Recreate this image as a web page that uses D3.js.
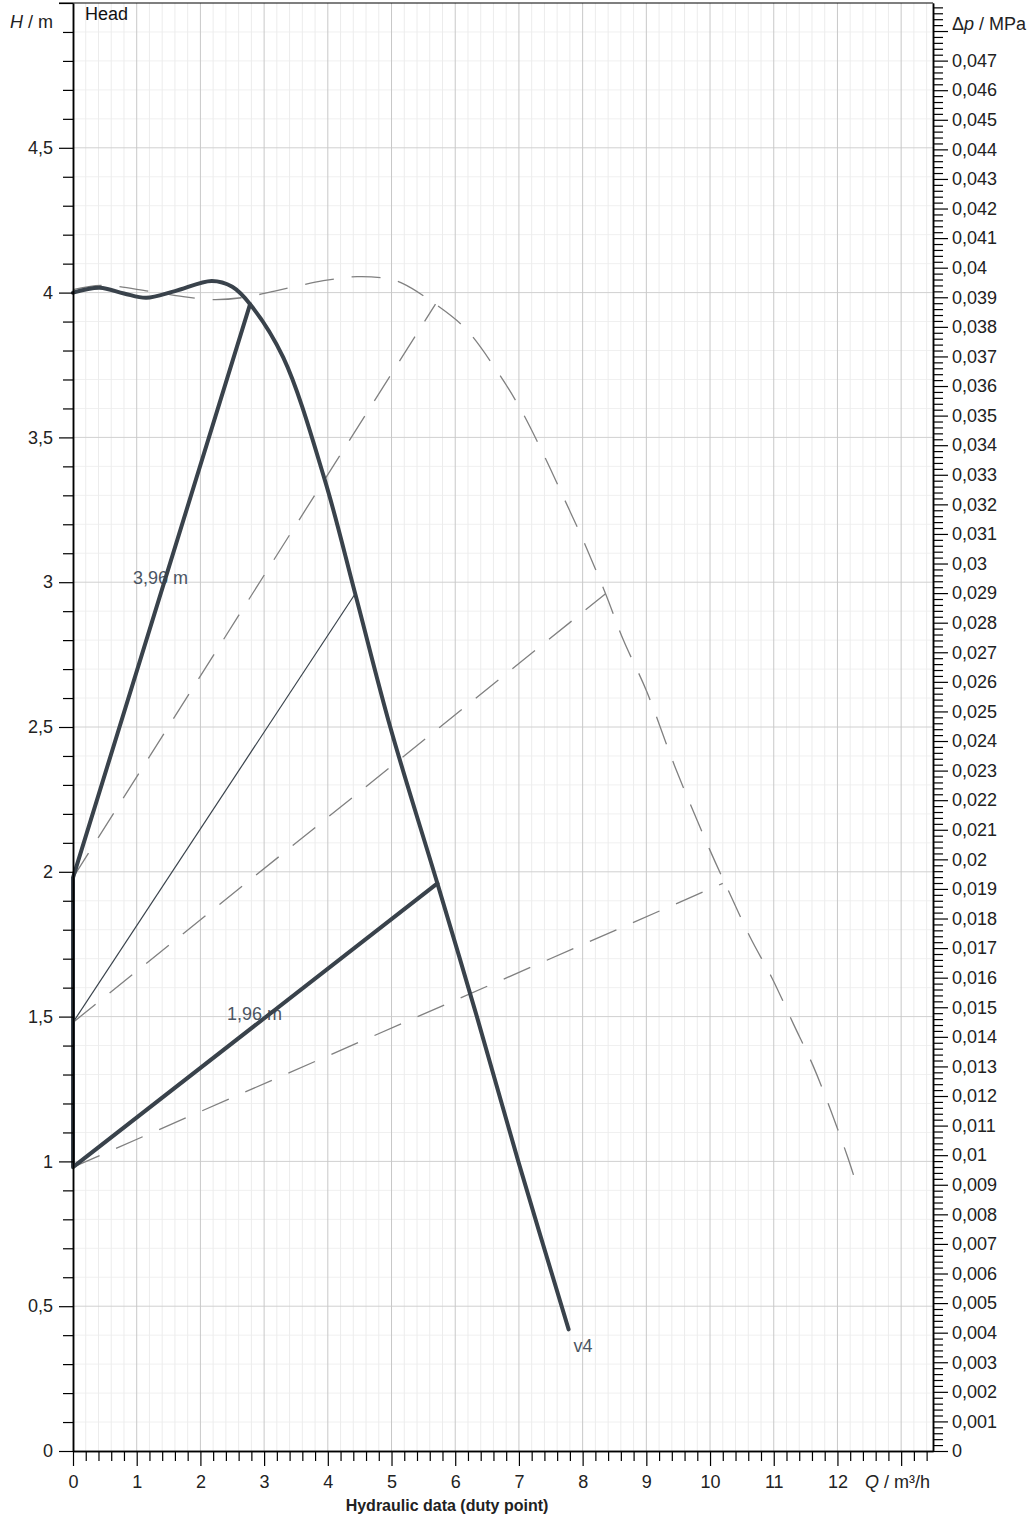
<!DOCTYPE html>
<html>
<head>
<meta charset="utf-8">
<script src="https://cdn.jsdelivr.net/npm/d3@7"></script>
<style>
	body { margin: 0; background: #fff; }
	svg { display: block; font-family: "Liberation Sans", Arial, sans-serif; }
</style>
</head>
<body>
<script>
// pump curve (speed v4), Q in m³/h, H in m
const pumpQ = [0, 0.42, 0.8, 1.15, 1.6, 2.18, 2.5, 2.78, 3.3, 3.95, 4.43, 4.98, 5.72, 6.34, 6.99, 7.78];
const pumpH = [4.0, 4.017, 3.997, 3.982, 4.005, 4.04, 4.02, 3.96, 3.776, 3.355, 2.96, 2.5, 1.96, 1.5, 1.0, 0.42];

// max curve (dashed)
const maxQ = [0, 0.44, 1.19, 1.73, 2.21, 2.67, 3.2, 3.93, 4.46, 4.93, 5.18, 5.69, 6.16, 6.63, 7.02, 7.38, 7.7, 8.01, 8.36, 8.64, 9.0, 9.46, 10.0, 10.32, 10.63, 10.98, 11.31, 11.62, 11.91, 12.16, 12.3];
const maxH = [4.01, 4.025, 4.005, 3.986, 3.976, 3.983, 4.007, 4.041, 4.055, 4.048, 4.031, 3.96, 3.876, 3.738, 3.6, 3.444, 3.293, 3.144, 2.96, 2.8, 2.626, 2.357, 2.074, 1.92, 1.774, 1.63, 1.474, 1.329, 1.167, 1.015, 0.92];

// proportional pressure control lines
const dutyHeads = [3.96, 2.96, 1.96];
const dutyQ = [2.78, 4.43, 5.72];      // on pump curve
const dutyMaxQ = [5.69, 8.36, 10.2];   // on max curve

const dutyLabels = ["3,96 m", "1,96 m"];
const curveLabel = "v4";

const qTicks = [0, 1, 2, 3, 4, 5, 6, 7, 8, 9, 10, 11, 12];
const hTicks = [0, 0.5, 1, 1.5, 2, 2.5, 3, 3.5, 4, 4.5];

const mPerMPa = 102.15;

const width = 1034;
const height = 1519;
const pLeft = 73, pRight = 933, pTop = 3, pBottom = 1451;

const x = d3.scaleLinear().domain([0, 13.5]).range([pLeft, pRight]);
const y = d3.scaleLinear().domain([0, 5]).range([pBottom, pTop]);
const yp = d3.scaleLinear().domain([0, 5 / mPerMPa]).range([pBottom, pTop]);

const fmt = d => String(+d.toFixed(4)).replace(".", ",");

const svg = d3.select("body")
	.append("svg")
	.attr("width", width)
	.attr("height", height);

// grid
const grid = svg.append("g");
const minorQ = d3.range(0, 13.5, 0.2).filter(v => Math.abs(v - Math.round(v)) > 1e-6);
const minorH = d3.range(0, 5, 0.1).filter(v => Math.abs(v * 2 - Math.round(v * 2)) > 1e-6);

grid.selectAll(".hminor").data(minorH).join("line")
	.attr("x1", pLeft).attr("x2", pRight)
	.attr("y1", d => y(d)).attr("y2", d => y(d))
	.attr("stroke", "#f0f0f0").attr("stroke-width", 1);
grid.selectAll(".vminor").data(minorQ).join("line")
	.attr("x1", d => x(d)).attr("x2", d => x(d))
	.attr("y1", pTop).attr("y2", pBottom)
	.attr("stroke", "#ececec").attr("stroke-width", 1);
grid.selectAll(".hmajor").data(hTicks.slice(1)).join("line")
	.attr("x1", pLeft).attr("x2", pRight)
	.attr("y1", d => y(d)).attr("y2", d => y(d))
	.attr("stroke", "#d0d0d0").attr("stroke-width", 1);
grid.selectAll(".vmajor").data(qTicks.slice(1).concat([13])).join("line")
	.attr("x1", d => x(d)).attr("x2", d => x(d))
	.attr("y1", pTop).attr("y2", pBottom)
	.attr("stroke", "#c8c8c8").attr("stroke-width", 1);

// frame top
svg.append("line")
	.attr("x1", pLeft - 14).attr("x2", pRight)
	.attr("y1", pTop).attr("y2", pTop)
	.attr("stroke", "#000").attr("stroke-width", 1.2);

// labels on the chart (drawn under the lines)
const labelColor = "#4b5563";
svg.append("text").attr("x", 133).attr("y", 584)
	.attr("font-size", 18).attr("fill", labelColor).text(dutyLabels[0]);
svg.append("text").attr("x", 227).attr("y", 1020)
	.attr("font-size", 18).attr("fill", labelColor).text(dutyLabels[1]);
svg.append("text").attr("x", x(pumpQ[pumpQ.length - 1]) + 5).attr("y", 1352)
	.attr("font-size", 18).attr("fill", labelColor).text(curveLabel);

const line = d3.line().x(d => x(d[0])).y(d => y(d[1]));
const smooth = d3.line().x(d => x(d[0])).y(d => y(d[1])).curve(d3.curveCatmullRom.alpha(0.5));

const dash = "29,18";
const dashColor = "#808080";
const dark = "#39424b";

// max curve
svg.append("path")
	.datum(maxQ.map((q, i) => [q, maxH[i]]))
	.attr("fill", "none").attr("stroke", dashColor).attr("stroke-width", 1.3)
	.attr("stroke-dasharray", dash)
	.attr("d", smooth);

// dashed control lines to max curve
dutyHeads.forEach((h, i) => {
	svg.append("path")
		.datum([[0, h / 2], [dutyMaxQ[i], h]])
		.attr("fill", "none").attr("stroke", dashColor).attr("stroke-width", 1.3)
		.attr("stroke-dasharray", dash)
		.attr("d", line);
});

// thin control line (middle)
svg.append("path")
	.datum([[0, dutyHeads[1] / 2], [dutyQ[1], dutyHeads[1]]])
	.attr("fill", "none").attr("stroke", dark).attr("stroke-width", 1.2)
	.attr("d", line);

// thick control range outline
svg.append("path")
	.datum([[dutyQ[0], dutyHeads[0]], [0, dutyHeads[0] / 2], [0, dutyHeads[2] / 2], [dutyQ[2], dutyHeads[2]]])
	.attr("fill", "none").attr("stroke", dark).attr("stroke-width", 4)
	.attr("stroke-linejoin", "round").attr("stroke-linecap", "round")
	.attr("d", line);

// pump curve
svg.append("path")
	.datum(pumpQ.map((q, i) => [q, pumpH[i]]))
	.attr("fill", "none").attr("stroke", dark).attr("stroke-width", 4)
	.attr("stroke-linejoin", "round").attr("stroke-linecap", "round")
	.attr("d", smooth);

// axes
function styleAxis(g) {
	g.select(".domain").attr("stroke", "#000").attr("stroke-width", 1.5);
	g.selectAll(".tick line").attr("stroke", "#000").attr("stroke-width", 1.2);
	g.selectAll(".tick text").attr("font-size", 18).attr("fill", "#222")
		.attr("font-family", "'Liberation Sans', Arial, sans-serif");
}

// left
svg.append("g").attr("transform", `translate(${pLeft},0)`)
	.call(d3.axisLeft(y).tickValues(minorH).tickSize(10).tickFormat("").tickSizeOuter(0))
	.call(styleAxis);
svg.append("g").attr("transform", `translate(${pLeft},0)`)
	.call(d3.axisLeft(y).tickValues(hTicks.concat([5])).tickSize(14).tickPadding(6)
		.tickFormat(d => d === 5 ? "" : fmt(d)).tickSizeOuter(0))
	.call(styleAxis);

// bottom
svg.append("g").attr("transform", `translate(0,${pBottom})`)
	.call(d3.axisBottom(x).tickValues(minorQ).tickSize(10).tickFormat("").tickSizeOuter(0))
	.call(styleAxis);
svg.append("g").attr("transform", `translate(0,${pBottom})`)
	.call(d3.axisBottom(x).tickValues(qTicks.concat([13])).tickSize(15).tickPadding(9)
		.tickFormat(d => d === 13 ? "" : fmt(d)).tickSizeOuter(0))
	.call(styleAxis);

// right
const dpMajor = d3.range(0, 49).map(i => i / 1000);
const dpMinor = d3.range(0, 245).map(i => i / 5000).filter((v, i) => i % 5 !== 0);
svg.append("g").attr("transform", `translate(${pRight},0)`)
	.call(d3.axisRight(yp).tickValues(dpMinor).tickSize(10).tickFormat("").tickSizeOuter(0))
	.call(styleAxis);
svg.append("g").attr("transform", `translate(${pRight},0)`)
	.call(d3.axisRight(yp).tickValues(dpMajor).tickSize(15).tickPadding(4)
		.tickFormat(d => d > 0.0475 ? "" : fmt(d)).tickSizeOuter(0))
	.call(styleAxis);

// axis titles
const hl = svg.append("text").attr("x", 53).attr("y", 28).attr("text-anchor", "end")
	.attr("font-size", 18).attr("fill", "#222");
hl.append("tspan").attr("font-style", "italic").text("H");
hl.append("tspan").text(" / m");

svg.append("text").attr("x", 85).attr("y", 20)
	.attr("font-size", 18).attr("fill", "#111").text("Head");

const pl = svg.append("text").attr("x", 952).attr("y", 30)
	.attr("font-size", 18).attr("fill", "#222");
pl.append("tspan").text("Δ");
pl.append("tspan").attr("font-style", "italic").text("p");
pl.append("tspan").text(" / MPa");

const ql = svg.append("text").attr("x", 865).attr("y", 1488)
	.attr("font-size", 18).attr("fill", "#222");
ql.append("tspan").attr("font-style", "italic").text("Q");
ql.append("tspan").text(" / m³/h");

svg.append("text").attr("x", 447).attr("y", 1511).attr("text-anchor", "middle")
	.attr("font-size", 16).attr("font-weight", "bold").attr("fill", "#222")
	.text("Hydraulic data (duty point)");
</script>
</body>
</html>
